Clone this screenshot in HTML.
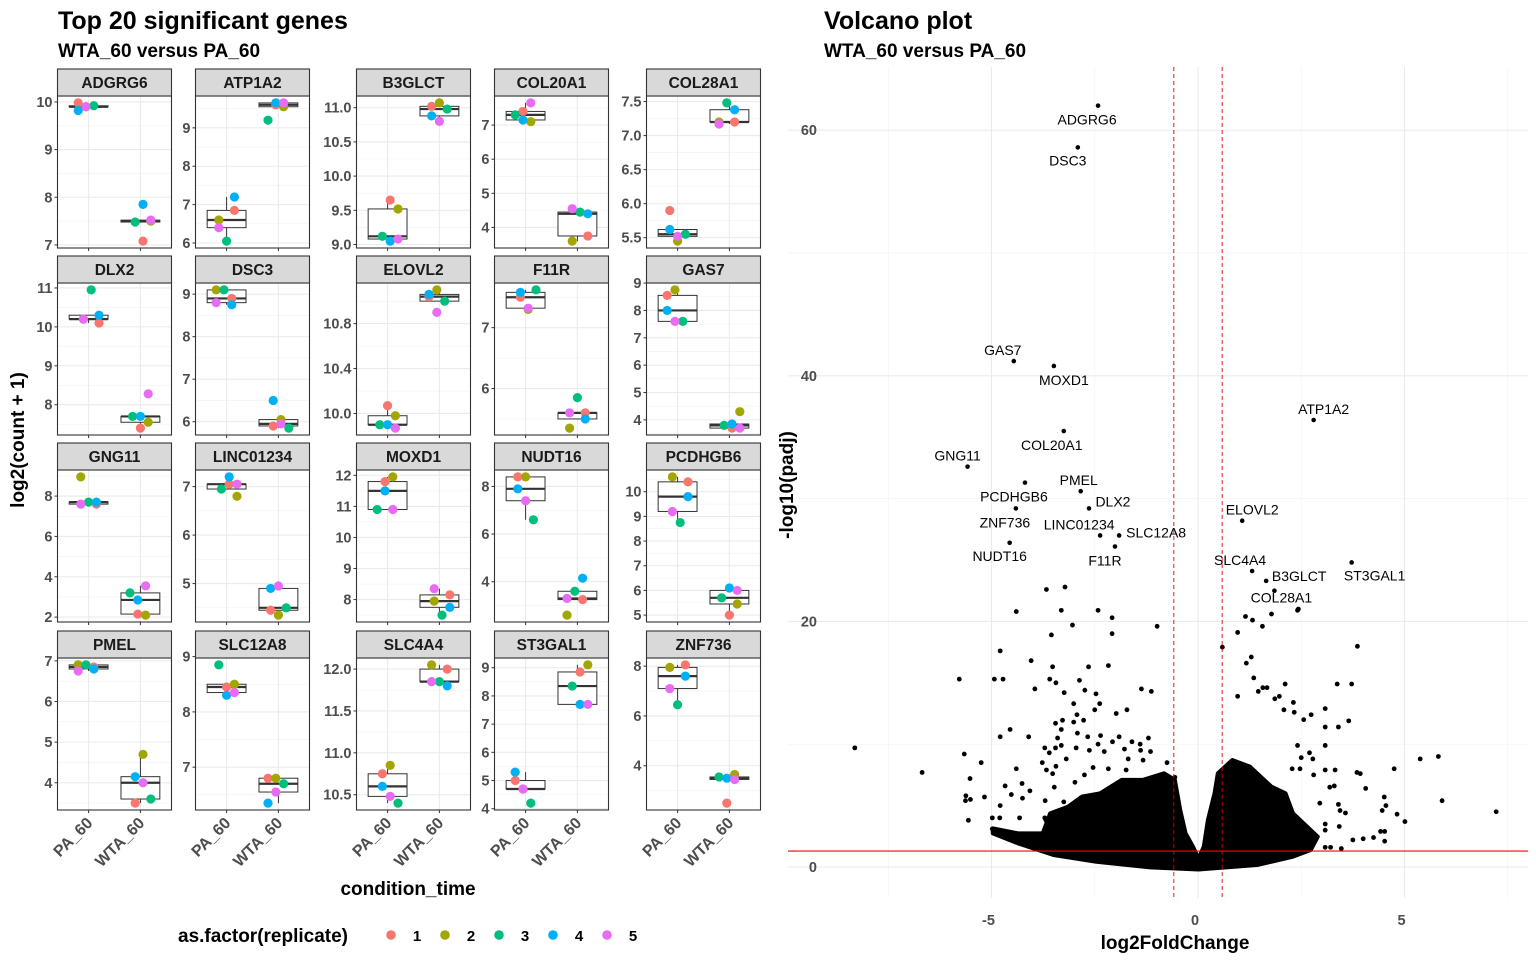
<!DOCTYPE html>
<html><head><meta charset="utf-8">
<style>
html,body{margin:0;padding:0;background:#fff;}
svg{display:block;font-family:"Liberation Sans",Arial,sans-serif;}
</style></head>
<body>
<svg id="fig" width="1536" height="960" viewBox="0 0 1536 960" xmlns="http://www.w3.org/2000/svg">
<text x="58" y="29" font-size="25" font-weight="bold" fill="#000">Top 20 significant genes</text>
<text x="58" y="57" font-size="19" font-weight="bold" fill="#000">WTA_60 versus PA_60</text>
<text x="824" y="29" font-size="25" font-weight="bold" fill="#000">Volcano plot</text>
<text x="824" y="57" font-size="19" font-weight="bold" fill="#000">WTA_60 versus PA_60</text>
<g id="facets"></g>
<g id="volcano"></g>
<text transform="translate(24,440) rotate(-90)" text-anchor="middle" font-size="19" font-weight="bold">log2(count + 1)</text>
<text x="408" y="895" text-anchor="middle" font-size="19" font-weight="bold">condition_time</text>
<g id="legend">
<text x="178" y="942" font-size="19" font-weight="bold">as.factor(replicate)</text>
</g>
<text transform="translate(793,485) rotate(-90)" text-anchor="middle" font-size="19" font-weight="bold">-log10(padj)</text>
<text x="1175" y="949" text-anchor="middle" font-size="19" font-weight="bold">log2FoldChange</text>
</svg>
<script>
// ---------- facet data ----------
const genes = ['ADGRG6','ATP1A2','B3GLCT','COL20A1','COL28A1','DLX2','DSC3','ELOVL2','F11R','GAS7','GNG11','LINC01234','MOXD1','NUDT16','PCDHGB6','PMEL','SLC12A8','SLC4A4','ST3GAL1','ZNF736'];
const conditions = ['PA_60','WTA_60'];
const replicates = ['1','2','3','4','5'];
const paVals = [
 [9.98,9.9,9.92,9.82,9.9],[6.85,6.6,6.05,7.2,6.4],[9.65,9.52,9.12,9.05,9.08],[7.4,7.1,7.3,7.15,7.65],[5.9,5.45,5.55,5.62,5.52],
 [10.1,10.2,10.95,10.3,10.2],[8.9,9.1,9.1,8.75,8.8],[10.07,9.98,9.9,9.9,9.87],[7.5,7.3,7.62,7.58,7.32],[8.55,8.75,7.6,8.0,7.6],
 [7.6,8.95,7.7,7.7,7.6],[7.05,6.8,6.95,7.2,7.05],[11.8,11.95,10.9,11.5,10.9],[8.4,8.4,6.6,7.9,7.4],[10.4,10.6,8.75,9.8,9.2],
 [6.85,6.9,6.9,6.8,6.75],[8.45,8.5,8.85,8.3,8.35],[10.75,10.85,10.4,10.6,10.48],[5.0,4.7,4.2,5.3,4.7],[8.05,7.95,6.45,7.6,7.1]];
const wtaVals = [
 [7.08,7.5,7.48,7.85,7.52],[9.6,9.55,9.2,9.65,9.65],[11.02,11.07,10.98,10.88,10.8],[3.75,3.6,4.45,4.4,4.55],[7.2,7.2,7.48,7.38,7.17],
 [7.4,7.55,7.7,7.7,8.28],[5.9,6.05,5.85,6.5,5.95],[11.04,11.1,11.0,11.06,10.9],[5.6,5.35,5.85,5.5,5.6],[3.7,4.3,3.8,3.85,3.7],
 [2.15,2.1,3.2,2.85,3.55],[4.45,4.35,4.5,4.9,4.95],[8.15,7.95,7.5,7.75,8.35],[3.25,2.6,3.6,4.15,3.3],[5.0,5.45,5.7,6.1,6.0],
 [3.5,4.7,3.6,4.15,4.0],[6.8,6.8,6.7,6.35,6.55],[12.0,12.05,11.85,11.8,11.85],[8.85,9.1,8.35,7.7,7.7],[2.5,3.65,3.55,3.5,3.45]];
const tickLabels = [
 ['7','8','9','10'],['6','7','8','9'],['9.0','9.5','10.0','10.5','11.0'],['4','5','6','7'],['5.5','6.0','6.5','7.0','7.5'],
 ['8','9','10','11'],['6','7','8','9'],['10.0','10.4','10.8'],['6','7'],['4','5','6','7','8','9'],
 ['2','4','6','8'],['5','6','7'],['8','9','10','11','12'],['4','6','8'],['5','6','7','8','9','10'],
 ['4','5','6','7'],['7','8','9'],['10.5','11.0','11.5','12.0'],['4','5','6','7','8','9'],['4','6','8']];

// ---------- volcano data ----------
const labGenes = ['ADGRG6','DSC3','GAS7','MOXD1','ATP1A2','COL20A1','GNG11','PMEL','PCDHGB6','DLX2','ELOVL2','ZNF736','LINC01234','SLC12A8','NUDT16','F11R','SLC4A4','B3GLCT','ST3GAL1','COL28A1'];
const labLfc = [-2.42,-2.91,-4.46,-3.49,2.8,-3.25,-5.58,-2.84,-4.19,-2.64,1.07,-4.41,-2.37,-1.91,-4.56,-2.01,1.31,1.65,3.72,1.85];
const labPadj = [62.0,58.6,41.2,40.8,36.4,35.5,32.6,30.6,31.3,29.2,28.2,29.2,27.0,27.0,26.4,26.1,24.1,23.3,24.8,22.5];
const otherLfc = [-3.67,-3.22,-4.40,-3.31,-2.42,-2.08,-3.04,-0.99,-3.55,-2.08,-4.79,-4.04,-3.52,-2.65,-2.17,-5.78,-4.93,-4.72,-3.59,-3.44,-2.87,-3.95,-3.24,-2.74,-2.47,-1.37,-1.13,-3.01,-2.38,-2.50,-1.72,-1.98,-2.93,-3.45,-3.28,-3.01,-2.77,-4.55,-4.79,-4.10,-3.31,-2.92,-2.67,-2.36,-1.91,-1.20,-3.40,-2.42,-2.07,-1.60,-1.40,-3.71,-3.45,-3.60,-3.31,-2.95,-2.63,-2.27,-1.78,-1.39,-1.15,-5.66,-5.25,-6.68,-4.40,-5.52,-4.67,-4.26,-4.07,-4.52,-4.25,-5.62,-5.63,-5.51,-5.17,-4.79,-5.56,-4.98,-4.80,-4.32,-4.98,-3.77,-3.67,-3.52,-3.44,-3.19,-2.98,-3.48,-3.70,-3.71,-3.68,-3.25,-2.54,-2.75,-2.17,-2.02,-1.74,-1.69,-1.33,-0.75,-0.56,-0.94,-8.31,
 1.78,2.41,1.15,1.32,1.56,0.96,0.59,3.86,1.29,1.17,1.35,3.37,3.72,2.11,1.46,1.57,1.67,0.96,1.86,1.97,2.31,2.08,2.33,3.08,2.74,2.56,3.65,3.40,3.08,3.08,2.41,2.70,2.78,2.50,2.28,2.47,2.80,3.08,3.32,3.85,3.93,4.75,5.38,5.82,4.06,3.19,3.30,4.51,5.91,2.95,3.40,4.55,4.46,3.44,3.57,4.82,5.01,3.08,3.08,3.42,4.42,4.52,4.25,4.52,3.75,4.00,3.47,3.08,3.21,7.22,2.43];
const otherPadj = [22.6,22.8,20.8,20.9,20.9,20.3,19.7,19.6,18.9,19.0,17.6,16.8,16.3,16.3,16.4,15.3,15.3,15.3,15.3,15.0,15.2,14.5,14.2,14.4,14.1,14.5,14.3,13.3,13.3,12.8,12.8,12.5,12.4,11.7,11.95,11.8,11.95,11.2,10.6,10.6,11.2,10.9,10.6,10.7,10.6,10.5,10.5,10.0,10.2,10.2,10.0,9.7,9.7,9.3,9.9,9.7,9.5,9.4,9.6,9.5,9.4,9.2,8.5,7.7,8.0,7.2,6.6,6.8,6.2,5.9,5.6,5.8,5.4,5.5,5.7,5.0,3.8,4.0,4.0,4.0,3.1,8.5,7.9,7.6,8.2,8.8,6.9,6.5,5.4,4.0,3.8,5.3,8.1,7.5,8.0,6.5,7.9,8.8,8.7,8.5,7.3,7.0,9.7,
 20.6,20.9,20.4,20.1,19.6,19.1,17.9,17.97,17.1,16.6,15.4,14.9,14.9,14.9,14.3,14.6,14.6,13.9,13.7,13.9,13.4,12.8,12.6,12.9,12.4,12.0,11.9,11.4,11.4,9.9,9.9,9.3,8.8,8.9,8.0,8.0,7.5,7.9,7.9,7.7,7.6,8.0,8.8,9.0,6.4,6.5,6.6,5.7,5.4,5.2,5.1,5.0,4.6,4.6,4.4,4.3,3.7,3.5,3.0,3.3,2.9,2.9,2.4,2.1,2.2,2.3,1.5,1.6,1.6,4.5,21.0];
// envelope of the dense (overplotted) point mass near the origin: [log2FC, -log10(padj)]
const denseLfc = [-4.97,-4.36,-3.76,-3.58,-3.15,-2.81,-2.37,-1.85,-1.34,-0.82,-0.56,-0.43,-0.30,-0.12,0.01,0.14,0.24,0.40,0.48,0.83,1.26,1.43,1.78,2.12,2.30,2.64,2.90,2.73,2.30,1.43,0.01,-1.16,-2.46,-3.50,-4.36,-4.97];
const densePadj = [3.15,2.74,2.74,4.37,4.91,5.73,6.0,7.09,7.09,7.63,7.09,4.64,2.74,1.65,0.70,1.65,3.83,6.0,7.63,8.71,8.17,7.63,6.54,6.0,4.37,3.29,2.47,1.38,0.84,0.16,-0.2,-0.03,0.43,0.98,1.93,2.74];
const volXTicks = [-5,0,5];
const volYTicks = [0,20,40,60];
const lfcCut = 0.585, padjCut = 1.301;

const repColors = ['#F8766D','#A3A500','#00BF7D','#00B0F6','#E76BF3'];
const NS = 'http://www.w3.org/2000/svg';
function mk(tag, attrs, parent){const e=document.createElementNS(NS,tag);for(const k in attrs)e.setAttribute(k,attrs[k]);parent.appendChild(e);return e;}

// ---------- facets ----------
const facetG = document.getElementById('facets');
const colX = [57.5,195.5,356.5,494.5,646.5];
const rowTop = [96,283,470,658];
const PW = 114, PH = 152, SH = 27;
function quant(arr,p){const s=[...arr].sort((a,b)=>a-b);const h=(s.length-1)*p;const lo=Math.floor(h);return s[lo]+(s[Math.min(lo+1,s.length-1)]-s[lo])*(h-lo);}
genes.forEach((g,gi)=>{
  const c=gi%5, r=Math.floor(gi/5);
  const L=colX[c], T=rowTop[r], B=T+PH, R=L+PW;
  const all=paVals[gi].concat(wtaVals[gi]);
  const mn=Math.min(...all), mx=Math.max(...all), rg=mx-mn;
  const lo=mn-0.05*rg, hi=mx+0.05*rg;
  const Y=v=>B-(v-lo)/(hi-lo)*PH;
  const X=k=>L+(k+1-0.4)/2.2*PW;
  const pg=mk('g',{},facetG);
  
  
  mk('rect',{x:L,y:T,width:PW,height:PH,fill:'#fff'},pg);
  const ticks=tickLabels[gi].map(Number);
  const step=ticks.length>1?ticks[1]-ticks[0]:1;
  const minors=[];
  for(let i=-1;i<ticks.length;i++){const m=ticks[0]+(i+0.5)*step;if(m>lo&&m<hi)minors.push(m);}
  minors.forEach(m=>mk('line',{x1:L,x2:R,y1:Y(m),y2:Y(m),stroke:'#F2F2F2','stroke-width':0.6},pg));
  ticks.forEach(t=>mk('line',{x1:L,x2:R,y1:Y(t),y2:Y(t),stroke:'#EBEBEB','stroke-width':1.1},pg));
  [0,1].forEach(k=>mk('line',{x1:X(k),x2:X(k),y1:T,y2:B,stroke:'#EBEBEB','stroke-width':1.1},pg));
  [paVals[gi],wtaVals[gi]].forEach((vals,k)=>{
    const q1=quant(vals,0.25),md=quant(vals,0.5),q3=quant(vals,0.75),iqr=q3-q1;
    const inside=vals.filter(v=>v>=q1-1.5*iqr&&v<=q3+1.5*iqr);
    const wl=Math.min(...inside), wh=Math.max(...inside);
    const bx=X(k), bw=0.75/2.2*PW;
    const bg=mk('g',{},pg);
    
    
    mk('line',{x1:bx,x2:bx,y1:Y(wh),y2:Y(q3),stroke:'#333','stroke-width':1},bg);
    mk('line',{x1:bx,x2:bx,y1:Y(q1),y2:Y(wl),stroke:'#333','stroke-width':1},bg);
    mk('rect',{x:bx-bw/2,y:Y(q3),width:bw,height:Math.max(0.5,Y(q1)-Y(q3)),fill:'#fff',stroke:'#333','stroke-width':1},bg);
    mk('line',{x1:bx-bw/2,x2:bx+bw/2,y1:Y(md),y2:Y(md),stroke:'#333','stroke-width':2.2},bg);
  });
  [paVals[gi],wtaVals[gi]].forEach((vals,k)=>{
    vals.forEach((v,ri)=>{
      const j=(((gi*7+ri*3+k*5)%9)-4)*2.6;
      const p=mk('circle',{cx:X(k)+j,cy:Y(v),r:4.6,fill:repColors[ri]},pg);
      
      
    });
  });
  mk('rect',{x:L,y:T,width:PW,height:PH,fill:'none',stroke:'#333','stroke-width':1.1},pg);
  const st=mk('rect',{x:L,y:T-SH,width:PW,height:SH,fill:'#D9D9D9',stroke:'#333','stroke-width':1.1},pg);
  
  
  const stt=mk('text',{x:L+PW/2,y:T-SH/2+5.5,'text-anchor':'middle','font-size':15.5,'font-weight':'bold',fill:'#1A1A1A'},pg);
  stt.textContent=g;
  
  
  tickLabels[gi].forEach((lab,ti)=>{
    const yy=Y(ticks[ti]);
    mk('line',{x1:L-3,x2:L,y1:yy,y2:yy,stroke:'#333','stroke-width':1},pg);
    const t=mk('text',{x:L-5,y:yy+5,'text-anchor':'end','font-size':14.5,'font-weight':'bold',fill:'#4D4D4D'},pg);
    t.textContent=lab;
    
    
  });
  [0,1].forEach(k=>mk('line',{x1:X(k),x2:X(k),y1:B,y2:B+3,stroke:'#333','stroke-width':1},pg));
  if(r===3){
    [0,1].forEach(k=>{
      const t=mk('text',{transform:`translate(${X(k)+5},${B+14}) rotate(-45)`,'text-anchor':'end','font-size':16,'font-weight':'bold',fill:'#4D4D4D'},pg);
      t.textContent=conditions[k];
      
      
    });
  }
});

// legend
const lg=document.getElementById('legend');
replicates.forEach((rp,i)=>{
  const x0=391+i*54;
  const c=mk('circle',{cx:x0,cy:935,r:4.8,fill:repColors[i]},lg);
  
  
  const t=mk('text',{x:x0+26,y:941,'text-anchor':'middle','font-size':15,'font-weight':'bold',fill:'#000'},lg);
  t.textContent=rp;
  
  
});

// ---------- volcano ----------
const vg=document.getElementById('volcano');
const VL=788,VR=1528,VT=67,VB=898;
const VX=v=>1198+v*41.3;
const VY=v=>867-v*12.28;
[-7.5,-2.5,2.5,7.5].forEach(m=>{if(VX(m)>VL&&VX(m)<VR)mk('line',{x1:VX(m),x2:VX(m),y1:VT,y2:VB,stroke:'#F2F2F2','stroke-width':0.7},vg);});
[10,30,50].forEach(m=>mk('line',{x1:VL,x2:VR,y1:VY(m),y2:VY(m),stroke:'#F2F2F2','stroke-width':0.7},vg));
volXTicks.forEach(t=>{
  mk('line',{x1:VX(t),x2:VX(t),y1:VT,y2:VB,stroke:'#EBEBEB','stroke-width':1.1},vg);
  const tx=mk('text',{x:VX(t)-3,y:925,'text-anchor':'middle','font-size':14.5,'font-weight':'bold',fill:'#4D4D4D'},vg);
  tx.textContent=String(t);
  
  
});
volYTicks.forEach(t=>{
  mk('line',{x1:VL,x2:VR,y1:VY(t),y2:VY(t),stroke:'#EBEBEB','stroke-width':1.1},vg);
  const tx=mk('text',{x:817,y:VY(t)+5,'text-anchor':'end','font-size':14.5,'font-weight':'bold',fill:'#4D4D4D'},vg);
  tx.textContent=String(t);
  
  
});
const dense=mk('polygon',{points:denseLfc.map((v,i)=>VX(v)+','+VY(densePadj[i])).join(' '),fill:'#000',stroke:'#000','stroke-width':4,'stroke-linejoin':'round'},vg);


otherLfc.forEach((v,i)=>{
  const p=mk('circle',{cx:VX(v),cy:VY(otherPadj[i]),r:2.4,fill:'#000'},vg);
  
  
});
[-lfcCut,lfcCut].forEach(v=>{
  const l=mk('line',{x1:VX(v),x2:VX(v),y1:VT,y2:VB,stroke:'#E00000','stroke-width':0.9,'stroke-dasharray':'4 3'},vg);
  
  
});
const hl=mk('line',{x1:VL,x2:VR,y1:VY(padjCut),y2:VY(padjCut),stroke:'#FF0000','stroke-width':1.1},vg);


const labelDx = [-11,-10,-11,10,10,-12,-10,-2,-11,24,10,-11,-21,37,-10,-10,-12,33,23,7];
const labelDy = [14,13,-11,14,-11,14,-11,-11,14,-7,-11,14,-11,-3,13,14,-11,-5,13,7];
labGenes.forEach((g,i)=>{
  const px=VX(labLfc[i]), py=VY(labPadj[i]);
  const p=mk('circle',{cx:px,cy:py,r:2.3,fill:'#000'},vg);
  
  
  const t=mk('text',{x:px+labelDx[i],y:py+labelDy[i]+5,'text-anchor':'middle','font-size':14,fill:'#000'},vg);
  t.textContent=g;
  
  
});
</script>
</body></html>
